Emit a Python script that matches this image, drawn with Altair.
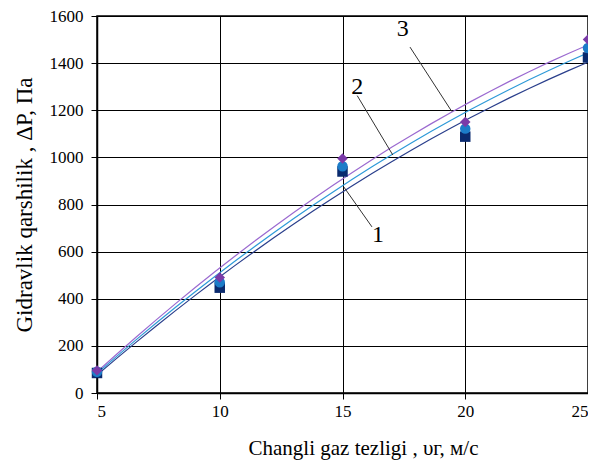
import altair as alt
import pandas as pd

speeds = [5, 10, 15, 20, 25]
series_names = ["1", "2", "3"]
dp_1 = [85, 447, 940, 1088, 1424]
dp_2 = [90, 470, 962, 1122, 1464]
dp_3 = [96, 490, 995, 1150, 1500]

point_colors = ["#0A2A6E", "#1C7CC8", "#7A3AA8"]
line_colors = ["#2A3F8C", "#2E9AD8", "#9B6AD0"]
shapes = ["square", "circle", "diamond"]

label_x = [16.45, 15.6, 17.45]
label_y = [670, 1300, 1545]
leader_x1 = [16.2, 15.6, 17.75]
leader_y1 = [705, 1262, 1468]
leader_x2 = [15.05, 17.05, 19.45]
leader_y2 = [875, 1010, 1195]

rows = []
for name, vals in zip(series_names, [dp_1, dp_2, dp_3]):
    for s, v in zip(speeds, vals):
        rows.append({"series": name, "speed": s, "dp": v})
df = pd.DataFrame(rows)

ann = pd.DataFrame({
    "label": series_names,
    "lx": label_x, "ly": label_y,
    "x1": leader_x1, "y1": leader_y1,
    "x2": leader_x2, "y2": leader_y2,
})

FONT = "Liberation Serif"

xscale = alt.Scale(domain=[5, 25], nice=False, zero=False)
yscale = alt.Scale(domain=[0, 1600], nice=False)

common_axis = dict(
    labelFont=FONT, titleFont=FONT, labelFontSize=17,
    titleFontWeight="normal", labelColor="black", titleColor="black",
    gridColor="black", gridOpacity=1, gridWidth=1,
    domainColor="black", domainWidth=1.5, tickColor="black", tickSize=6,
    format="d",
)

xaxis = alt.Axis(values=speeds, title="Changli gaz tezligi  , υг, м/с",
                 titleX=266, titlePadding=18, labelPadding=4, titleFontSize=21,
                 **common_axis)
yaxis = alt.Axis(values=list(range(0, 1601, 200)),
                 title="Gidravlik qarshilik  , ΔP, Па", titlePadding=13,
                 labelPadding=8, titleFontSize=23, **common_axis)

lines = alt.Chart(df).transform_regression(
    "speed", "dp", groupby=["series"], method="poly", order=2, extent=[5, 25]
).mark_line(strokeWidth=1.2, clip=True).encode(
    x=alt.X("speed:Q", scale=xscale, axis=xaxis),
    y=alt.Y("dp:Q", scale=yscale, axis=yaxis),
    color=alt.Color("series:N", scale=alt.Scale(domain=series_names, range=line_colors), legend=None),
)

points = alt.Chart(df).mark_point(filled=True, opacity=1, size=110).encode(
    x=alt.X("speed:Q", scale=xscale),
    y=alt.Y("dp:Q", scale=yscale),
    shape=alt.Shape("series:N", scale=alt.Scale(domain=series_names, range=shapes), legend=None),
    fill=alt.Fill("series:N", scale=alt.Scale(domain=series_names, range=point_colors), legend=None),
)

leaders = alt.Chart(ann).mark_rule(color="#333333", strokeWidth=1).encode(
    x=alt.X("x1:Q", scale=xscale),
    y=alt.Y("y1:Q", scale=yscale),
    x2="x2:Q",
    y2="y2:Q",
)

labels = alt.Chart(ann).mark_text(font=FONT, fontSize=24, color="black").encode(
    x=alt.X("lx:Q", scale=xscale),
    y=alt.Y("ly:Q", scale=yscale),
    text="label:N",
)

chart = alt.layer(lines, leaders, points, labels).resolve_scale(
    color="independent", fill="independent", shape="independent"
).properties(
    width=491, height=377,
    autosize=alt.AutoSizeParams(type="none"),
    padding={"left": 89, "top": 8, "right": 0, "bottom": 68},
    background="white",
).configure_view(
    stroke="black", strokeWidth=1.5
)

chart.save("out.html", embed_options={"renderer": "svg", "actions": False})
